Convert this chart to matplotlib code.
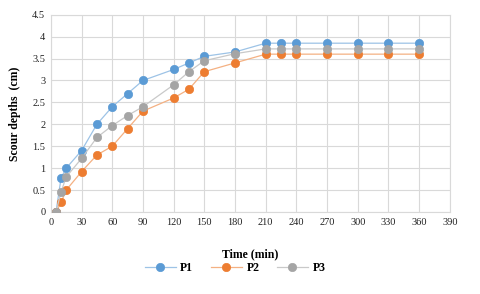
import matplotlib.pyplot as plt
from matplotlib.ticker import FuncFormatter

time_min = [5, 10, 15, 30, 45, 60, 75, 90, 120, 135, 150, 180, 210, 225, 240, 270, 300, 330, 360]
p1 = [0, 0.78, 1.0, 1.4, 2.0, 2.4, 2.7, 3.0, 3.25, 3.4, 3.55, 3.65, 3.85, 3.85, 3.85, 3.85, 3.85, 3.85, 3.85]
p2 = [0, 0.22, 0.5, 0.92, 1.3, 1.5, 1.9, 2.3, 2.6, 2.8, 3.2, 3.4, 3.6, 3.6, 3.6, 3.6, 3.6, 3.6, 3.6]
p3 = [0, 0.46, 0.8, 1.22, 1.7, 1.97, 2.2, 2.4, 2.9, 3.2, 3.45, 3.61, 3.72, 3.72, 3.72, 3.72, 3.72, 3.72, 3.72]

# name, values, marker colour, line colour (lighter)
series = [('P1', p1, '#5B9BD5', '#9DC3E6'),
          ('P2', p2, '#ED7D31', '#F4B183'),
          ('P3', p3, '#A5A5A5', '#C9C9C9')]

plt.rcParams['font.family'] = ['Liberation Serif', 'DejaVu Serif']

fig = plt.figure(figsize=(4.8, 2.94), dpi=100)
ax = fig.add_axes([0.106, 0.279, 0.831, 0.671])

for name, vals, color, lcolor in series:
    ax.plot(time_min, vals, color=lcolor, lw=0.9, marker='o', ms=6,
            mfc=color, mec=color, mew=0.5, label=name, zorder=3)

ax.set_xlim(0, 390)
ax.set_ylim(0, 4.5)
ax.set_xticks(range(0, 391, 30))
ax.set_yticks([i * 0.5 for i in range(10)])
ax.yaxis.set_major_formatter(FuncFormatter(lambda v, p: '%g' % v))
ax.grid(True, color='#D9D9D9', lw=0.8)
ax.set_axisbelow(True)
ax.tick_params(length=0, labelsize=7.5, pad=4, colors='#222222')
for s in ax.spines.values():
    s.set_color('#D9D9D9')
    s.set_linewidth(0.8)

ax.set_xlabel('Time (min)', fontsize=8.5, fontweight='bold', labelpad=16)
ax.set_ylabel('Scour depths  (cm)', fontsize=8.5, fontweight='bold', labelpad=8)

fig.legend(loc='center', bbox_to_anchor=(0.49, 0.088), ncol=3, frameon=False,
           prop={'weight': 'bold', 'size': 8.5}, handlelength=2.6,
           columnspacing=1.5, handletextpad=0.4)

fig.savefig('out.png', dpi=100)
